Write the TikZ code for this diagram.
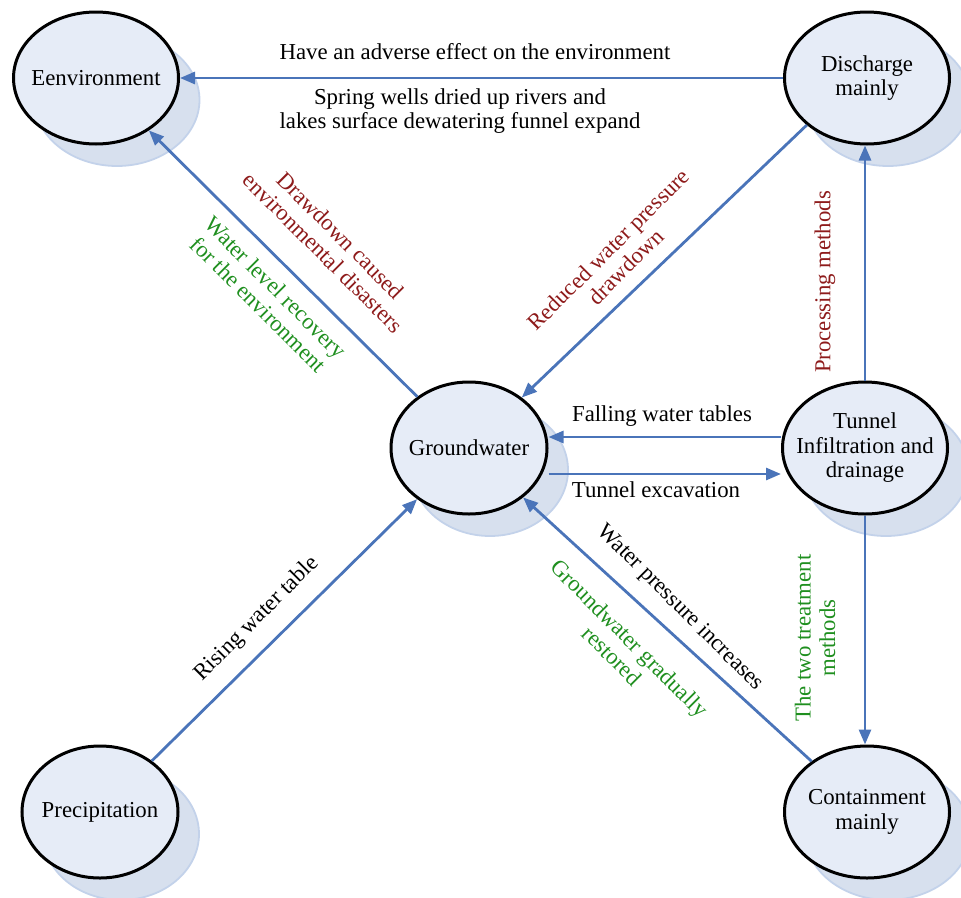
\documentclass[tikz,border=0pt]{standalone}
\usepackage{fontspec}
\setmainfont{Liberation Serif}
\usetikzlibrary{arrows.meta,positioning,shapes.geometric,shadows}

\definecolor{flowblue}{HTML}{4A74B9}
\definecolor{poolfill}{HTML}{E6ECF7}
\definecolor{shadefill}{HTML}{D7E0EE}
\definecolor{shadeline}{HTML}{C3D2EA}
\definecolor{harmred}{HTML}{8E1B1B}
\definecolor{healgreen}{HTML}{1F8F1F}

\begin{document}
\begin{tikzpicture}[
  x=1pt, y=-1pt,
  font=\fontsize{22.8}{24.5}\selectfont,
  >={Triangle[length=15pt,width=12pt]},
  % ellipses with an offset shadow
  pool/.style={
    draw, ellipse, line width=3pt,
    fill=poolfill, align=center, inner xsep=-14pt, inner ysep=0pt,
    minimum width=165pt, minimum height=132pt,
    drop shadow={shadow xshift=21pt, shadow yshift=-22pt,
      fill=shadefill, draw=shadeline, line width=1.8pt, opacity=1}
  },
  flow/.style={->, draw=flowblue, line width=2.8pt},
  note/.style={align=center, inner sep=1pt},
  harm/.style={note, text=harmred},
  heal/.style={note, text=healgreen}
]
\useasboundingbox (0,0) rectangle (961,897);

% Stores
\node[pool] (env) at (96,78) {Eenvironment};
\node[pool] (dis) at (867,78) {Discharge\\mainly};
\node[pool, minimum width=156pt] (gw) at (469,448) {Groundwater};
\node[pool] (tun) at (865,448) {Tunnel\\Infiltration and\\drainage};
\node[pool, minimum width=156pt] (pre) at (100,812) {Precipitation};
\node[pool] (con) at (867,812) {Containment\\mainly};

% Flows
\draw[flow] (dis) -- (env);
\draw[flow] (gw) -- (env);
\draw[flow] (dis.218) -- (gw);
\draw[flow] (tun.north) -- (tun.north |- dis.south);
\draw[flow] ([yshift=11pt]tun.west) -- ([yshift=11pt]tun.west -| gw.east);
\draw[flow] ([yshift=-26pt]gw.east) -- ([yshift=-26pt]gw.east -| tun.west);
\draw[flow] (tun.south) -- (tun.south |- con.north);
\draw[flow] (con) -- (gw);
\draw[flow] (pre) -- (gw);

% Labels
\node[note] (adverse) at (475,52) {Have an adverse effect on the environment};
\node[note] (spring) at (460,111) {Spring wells dried up rivers and\\lakes surface dewatering funnel expand};
\node[harm, rotate=-45] (drawdown) at (332,244) {Drawdown caused\\environmental disasters};
\node[heal, rotate=-45] (recovery) at (267,296) {Water level recovery\\for the environment};
\node[harm, rotate=45] (reduced) at (617,258) {Reduced water pressure\\drawdown};
\node[harm, rotate=90] (processing) at (825,282) {Processing methods};
\node[note] (falling) at (662,416) {Falling water tables};
\node[note] (excavation) at (656,490) {Tunnel excavation};
\node[note, rotate=45] (rising) at (257,619) {Rising water table};
\node[note, rotate=-45] (pressure) at (680,608) {Water pressure increases};
\node[heal, rotate=-45] (restored) at (621,647) {Groundwater gradually\\restored};
\node[heal, rotate=90] (treatment) at (815,638) {The two treatment\\methods};
\end{tikzpicture}
\end{document}
